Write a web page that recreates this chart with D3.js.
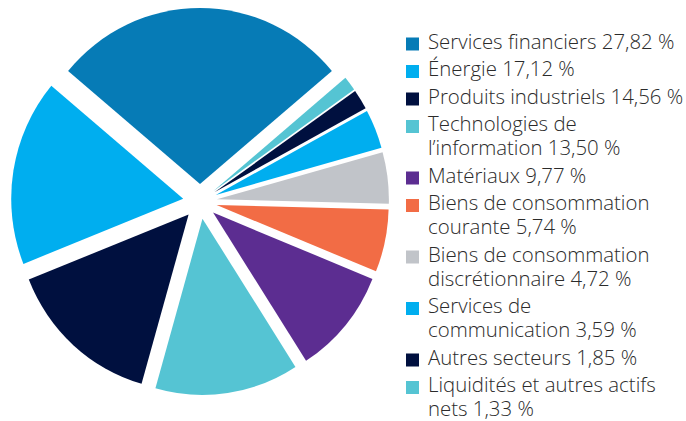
<!DOCTYPE html>
<html>
<head>
<meta charset="utf-8">
<script src="https://cdn.jsdelivr.net/npm/d3@7"></script>
<style>
  body { margin: 0; background: #fff; }
  text { font-family: "Open Sans", Lato, sans-serif; font-weight: 300; fill: #2b2b2b; }
</style>
</head>
<body>
<div id="main"></div>
<script>
var width = 686,
    height = 421;

// sector weights, in legend order
var labels = [
  ["Services financiers 27,82 %"],
  ["Énergie 17,12 %"],
  ["Produits industriels 14,56 %"],
  ["Technologies de", "l’information 13,50 %"],
  ["Matériaux 9,77 %"],
  ["Biens de consommation", "courante 5,74 %"],
  ["Biens de consommation", "discrétionnaire 4,72 %"],
  ["Services de", "communication 3,59 %"],
  ["Autres secteurs 1,85 %"],
  ["Liquidités et autres actifs", "nets 1,33 %"]
];
var values = [27.82, 17.12, 14.56, 13.50, 9.77, 5.74, 4.72, 3.59, 1.85, 1.33];
var colors = ["#067bb6", "#00aeef", "#00103f", "#55c4d3", "#5c2d91",
              "#f26c45", "#c1c4c9", "#00aeef", "#00103f", "#55c4d3"];

var cx = 200, cy = 201.5, radius = 172, explode = 17;

var svg = d3.select("#main")
  .append("svg")
  .attr("width", width)
  .attr("height", height);

// first slice centred on top, the rest going counter-clockwise
var half = values[0] / 100 * Math.PI;
var pie = d3.pie()
  .sort(null)
  .startAngle(half)
  .endAngle(half - 2 * Math.PI);

var arc = d3.arc().innerRadius(0).outerRadius(radius);

// the original pie is a touch taller than wide
svg.append("g")
  .attr("transform", "translate(" + cx + "," + cy + ") scale(1,1.024)")
  .selectAll("path")
  .data(pie(values))
.enter().append("path")
  .attr("d", arc)
  .attr("fill", function(d, i){ return colors[i]; })
  .attr("transform", function(d){
    var mid = (d.startAngle + d.endAngle) / 2;
    return "translate(" + (Math.sin(mid) * explode) + "," + (-Math.cos(mid) * explode) + ")";
  });

/* legend */
var lineStep = 24, itemGap = 27.5;
var y = 48.5;
var legend = svg.append("g").attr("class", "legend");
labels.forEach(function(lines, i){
  var g = legend.append("g").attr("transform", "translate(0," + y + ")");
  g.append("rect")
    .attr("x", 406)
    .attr("y", -11)
    .attr("width", 13)
    .attr("height", 13)
    .attr("fill", colors[i]);
  var t = g.append("text")
    .attr("x", 428)
    .attr("y", 0)
    .style("font-size", "20.4px");
  lines.forEach(function(l, j){
    t.append("tspan")
      .attr("x", 428)
      .attr("dy", j == 0 ? 0 : lineStep)
      .text(l);
  });
  y += itemGap + (lines.length - 1) * lineStep;
});
</script>
</body>
</html>
